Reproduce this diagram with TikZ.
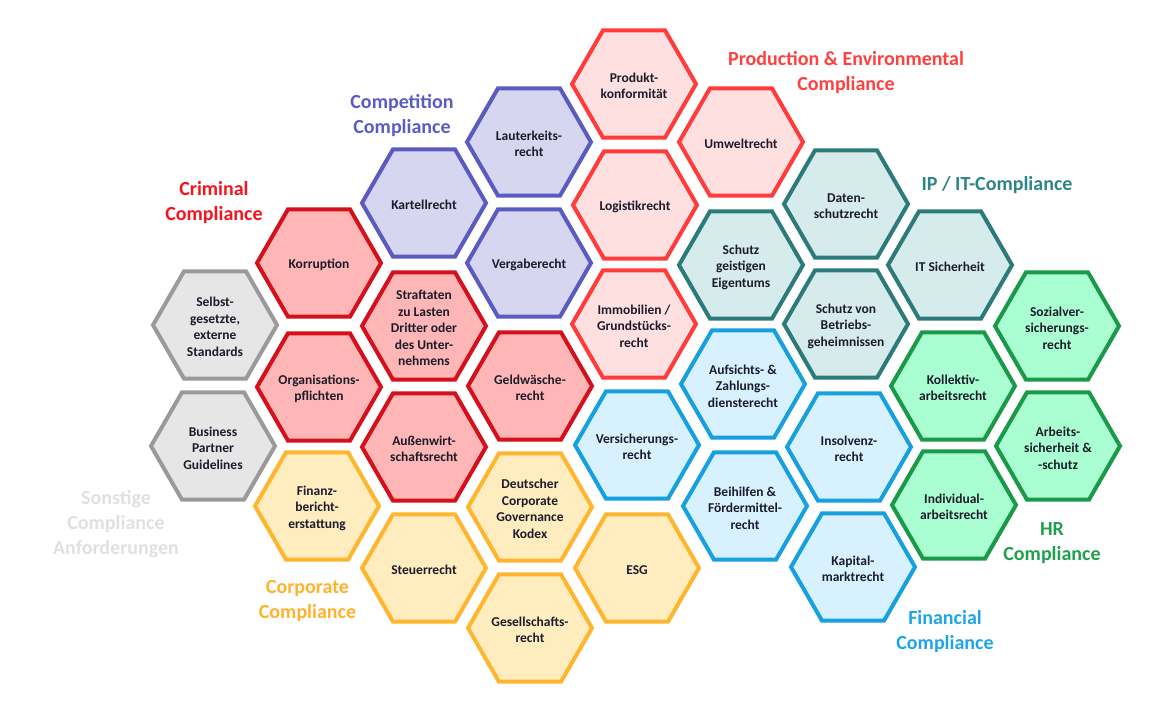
\documentclass[tikz,border=0pt]{standalone}
\usepackage{fontspec}
\setmainfont{Carlito}
\usetikzlibrary{shapes.geometric}
\definecolor{txtC}{HTML}{1C1C2C}
\definecolor{crimS}{HTML}{D4101C}\definecolor{crimF}{HTML}{FFB6B6}\definecolor{crimL}{HTML}{F4141E}
\definecolor{prodS}{HTML}{FF3B3B}\definecolor{prodF}{HTML}{FFE0E0}\definecolor{prodL}{HTML}{FF4040}
\definecolor{compS}{HTML}{5A5AC0}\definecolor{compF}{HTML}{D6D6F0}\definecolor{compL}{HTML}{5B5BC6}
\definecolor{ipS}{HTML}{2C7A7A}\definecolor{ipF}{HTML}{D6EBEB}\definecolor{ipL}{HTML}{2E8585}
\definecolor{finS}{HTML}{16A0E0}\definecolor{finF}{HTML}{D7F2FE}\definecolor{finL}{HTML}{1EA5E8}
\definecolor{hrS}{HTML}{1A9A48}\definecolor{hrF}{HTML}{A9FFD1}\definecolor{hrL}{HTML}{1FA04C}
\definecolor{corS}{HTML}{FFB52E}\definecolor{corF}{HTML}{FFEDBF}\definecolor{corL}{HTML}{FFB22E}
\definecolor{grayS}{HTML}{9A9A9A}\definecolor{grayF}{HTML}{E6E6E6}\definecolor{grayL}{HTML}{E0E0E0}
\tikzset{
  hexbase/.style={regular polygon, regular polygon sides=6, minimum size=124pt, inner sep=0pt, outer sep=0pt, line width=4pt},
  hexcrim/.style={hexbase, draw=crimS, fill=crimF},
  hexprod/.style={hexbase, draw=prodS, fill=prodF},
  hexcomp/.style={hexbase, draw=compS, fill=compF},
  hexip/.style={hexbase, draw=ipS, fill=ipF},
  hexfin/.style={hexbase, draw=finS, fill=finF},
  hexhr/.style={hexbase, draw=hrS, fill=hrF},
  hexcor/.style={hexbase, draw=corS, fill=corF},
  hexgray/.style={hexbase, draw=grayS, fill=grayF},
  hxt/.style={align=center, font=\bfseries\fontsize{13.5}{16.5}\selectfont, text=txtC, inner sep=0pt, yshift=-2pt},
  grp/.style={align=center, font=\bfseries\fontsize{20}{25}\selectfont, inner sep=0pt, yshift=-2pt},
}
\newcommand\hexcell[4]{\node[#1] (#2) at #3 {}; \node[hxt] (#2-t) at (#2) {#4};}
\begin{document}
\begin{tikzpicture}[x=1pt,y=-1pt]
\useasboundingbox (0,0) rectangle (1175,706);
% gray
\hexcell{hexgray}{selbst}{(215,325)}{Selbst-\\gesetzte,\\externe\\Standards}
\hexcell{hexgray}{bpg}{(213,446)}{Business\\Partner\\Guidelines}
% criminal
\hexcell{hexcrim}{korr}{(319,263)}{Korruption}
\hexcell{hexcrim}{orga}{(319,387)}{Organisations-\\pflichten}
\hexcell{hexcrim}{straf}{(424,326)}{Straftaten\\zu Lasten\\Dritter oder\\des Unter-\\nehmens}
\hexcell{hexcrim}{aussen}{(424,447)}{Außenwirt-\\schaftsrecht}
\hexcell{hexcrim}{geld}{(530,386)}{Geldwäsche-\\recht}
% competition
\hexcell{hexcomp}{kart}{(424,203)}{Kartellrecht}
\hexcell{hexcomp}{laut}{(529,142)}{Lauterkeits-\\recht}
\hexcell{hexcomp}{verg}{(529,263)}{Vergaberecht}
% production
\hexcell{hexprod}{prod}{(634,84)}{Produkt-\\konformität}
\hexcell{hexprod}{umwelt}{(741,142)}{Umweltrecht}
\hexcell{hexprod}{logi}{(635,205)}{Logistikrecht}
\hexcell{hexprod}{immo}{(634,324)}{Immobilien /\\Grundstücks-\\recht}
% IP / IT
\hexcell{hexip}{daten}{(846,204)}{Daten-\\schutzrecht}
\hexcell{hexip}{sgeist}{(741,265)}{Schutz\\geistigen\\Eigentums}
\hexcell{hexip}{sbetr}{(846,324)}{Schutz von\\Betriebs-\\geheimnissen}
\hexcell{hexip}{itsich}{(950,265)}{IT Sicherheit}
% financial
\hexcell{hexfin}{aufs}{(743,384)}{Aufsichts- \&\\Zahlungs-\\diensterecht}
\hexcell{hexfin}{vers}{(637,445)}{Versicherungs-\\recht}
\hexcell{hexfin}{beih}{(745,506)}{Beihilfen \&\\Fördermittel-\\recht}
\hexcell{hexfin}{insol}{(849,447)}{Insolvenz-\\recht}
\hexcell{hexfin}{kapi}{(853,567)}{Kapital-\\marktrecht}
% HR
\hexcell{hexhr}{sozi}{(1057,326)}{Sozialver-\\sicherungs-\\recht}
\hexcell{hexhr}{koll}{(953,386)}{Kollektiv-\\arbeitsrecht}
\hexcell{hexhr}{arbs}{(1058,446)}{Arbeits-\\sicherheit \&\\-schutz}
\hexcell{hexhr}{indi}{(954,505)}{Individual-\\arbeitsrecht}
% corporate
\hexcell{hexcor}{finanz}{(317,506)}{Finanz-\\bericht-\\erstattung}
\hexcell{hexcor}{steuer}{(424,568)}{Steuerrecht}
\hexcell{hexcor}{dcgk}{(530,507)}{Deutscher\\Corporate\\Governance\\Kodex}
\hexcell{hexcor}{esg}{(637,568)}{ESG}
\hexcell{hexcor}{gesell}{(530,628)}{Gesellschafts-\\recht}
% group labels
\node[grp, text=crimL] (lcrim) at (214,200.5) {Criminal\\Compliance};
\node[grp, text=compL] (lcomp) at (402,113.5) {Competition\\Compliance};
\node[grp, text=prodL] (lprod) at (846,71) {Production \& Environmental\\Compliance};
\node[grp, text=ipL] (lip) at (997,183) {IP / IT-Compliance};
\node[grp, text=hrL] (lhr) at (1052,541.5) {HR\\Compliance};
\node[grp, text=finL] (lfin) at (945,629.5) {Financial\\Compliance};
\node[grp, text=corL] (lcor) at (307.5,599.5) {Corporate\\Compliance};
\node[grp, text=grayL] (lgray) at (116,522.5) {Sonstige\\Compliance\\Anforderungen};
\end{tikzpicture}
\end{document}
